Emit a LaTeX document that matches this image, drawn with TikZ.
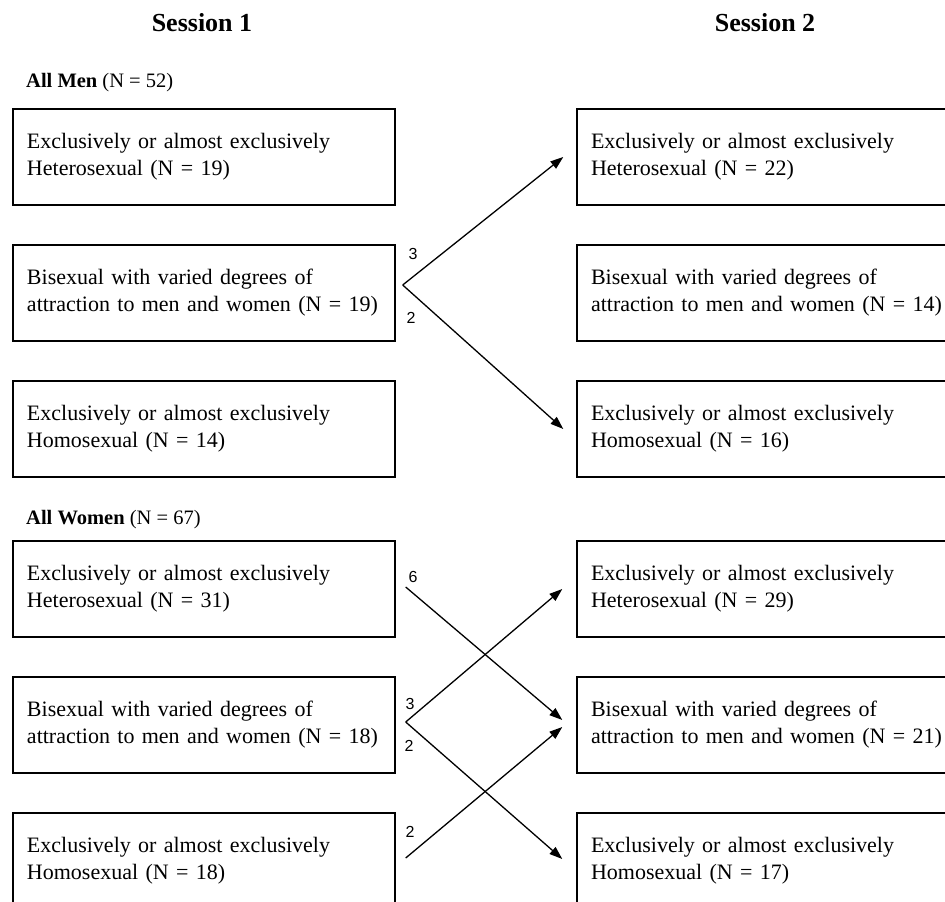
\documentclass[tikz,border=0pt]{standalone}
\usepackage{fontspec}
\setmainfont{Liberation Serif}
\newfontfamily\numfont{Liberation Sans}
\usetikzlibrary{arrows.meta}

\begin{document}
\begin{tikzpicture}[x=1pt,y=-1pt,
        box/.style={draw, line width=1.4pt, minimum width=382pt, minimum height=96pt,
            text width=354pt, inner xsep=14pt, align=left,
            font=\fontsize{22}{27}\selectfont},
        flow/.style={-{Triangle[length=13pt,width=9pt]}, line width=1.3pt},
        cnt/.style={font=\numfont\fontsize{16}{16}\selectfont, inner sep=0pt},
        head/.style={font=\fontsize{26}{30}\selectfont\bfseries},
        grp/.style={anchor=west, inner sep=0pt, font=\fontsize{20.5}{24}\selectfont}]

            \useasboundingbox (0,0) rectangle (945,902);
            \clip (0,0) rectangle (945,902);

            \node[head] (S1) at (202,23) {Session 1};
            \node[head] (S2) at (765,23) {Session 2};

            % men
            \node[grp] (AM) at (26,83) {\textbf{All Men} (N = 52)};
            \node[box] (MHet1) at (204,157) {Exclusively or almost exclusively\\Heterosexual (N = 19)};
            \node[box] (MBi1) at (204,293) {Bisexual with varied degrees of\\attraction to men and women (N = 19)};
            \node[box] (MHom1) at (204,429) {Exclusively or almost exclusively\\Homosexual (N = 14)};
            \node[box] (MHet2) at (768,157) {Exclusively or almost exclusively\\Heterosexual (N = 22)};
            \node[box] (MBi2) at (768,293) {Bisexual with varied degrees of\\attraction to men and women (N = 14)};
            \node[box] (MHom2) at (768,429) {Exclusively or almost exclusively\\Homosexual (N = 16)};

            \coordinate (MBiOut) at ([xshift=7pt,yshift=8pt]MBi1.east);
            \draw[flow] (MBiOut) -- ([xshift=-13pt]MHet2.west);
            \draw[flow] (MBiOut) -- ([xshift=-13pt]MHom2.west);
            \node[cnt] (nM3) at (413,254) {3};
            \node[cnt] (nM2) at (411,318) {2};

            % women
            \node[grp] (AW) at (26,520) {\textbf{All Women} (N = 67)};
            \node[box] (WHet1) at (204,589) {Exclusively or almost exclusively\\Heterosexual (N = 31)};
            \node[box] (WBi1) at (204,725) {Bisexual with varied degrees of\\attraction to men and women (N = 18)};
            \node[box] (WHom1) at (204,861) {Exclusively or almost exclusively\\Homosexual (N = 18)};
            \node[box] (WHet2) at (768,589) {Exclusively or almost exclusively\\Heterosexual (N = 29)};
            \node[box] (WBi2) at (768,725) {Bisexual with varied degrees of\\attraction to men and women (N = 21)};
            \node[box] (WHom2) at (768,861) {Exclusively or almost exclusively\\Homosexual (N = 17)};

            \coordinate (WHetOut) at ([xshift=10pt,yshift=2pt]WHet1.east);
            \coordinate (WBiOut) at ([xshift=10pt,yshift=3pt]WBi1.east);
            \coordinate (WHomOut) at ([xshift=10pt,yshift=3pt]WHom1.east);
            \draw[flow] (WHetOut) -- ([xshift=-14pt,yshift=5pt]WBi2.west);
            \draw[flow] (WBiOut) -- ([xshift=-14pt]WHet2.west);
            \draw[flow] (WBiOut) -- ([xshift=-14pt,yshift=2pt]WHom2.west);
            \draw[flow] (WHomOut) -- ([xshift=-14pt,yshift=-2pt]WBi2.west);
            \node[cnt] (nW6) at (413,577) {6};
            \node[cnt] (nW3) at (410,704) {3};
            \node[cnt] (nW2a) at (409,746) {2};
            \node[cnt] (nW2b) at (410,832) {2};
        \end{tikzpicture}
\end{document}
